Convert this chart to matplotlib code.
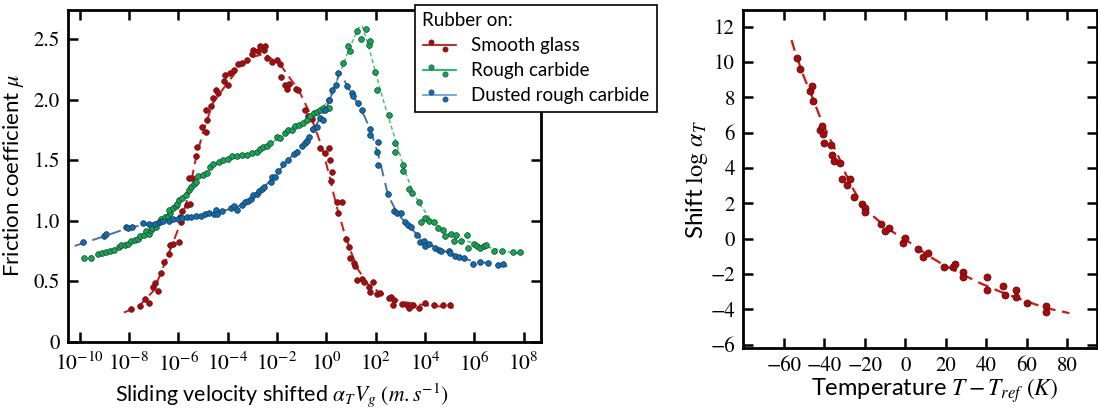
import numpy as np
import matplotlib
matplotlib.use('Agg')
import matplotlib.pyplot as plt
from matplotlib.lines import Line2D
from matplotlib.legend_handler import HandlerBase
from matplotlib.ticker import FuncFormatter, NullLocator

plt.rcParams['font.family'] = ['Lato', 'DejaVu Sans']
plt.rcParams['mathtext.fontset'] = 'stix'

# ---- left panel: friction master curves (x stored as log10 of velocity) ----
glass_logv = [-7.91, -7.57, -7.34, -7.19, -7.03, -6.93, -6.81, -6.71, -6.59, -6.38,
              -6.32, -6.21, -5.97, -5.92, -5.88, -5.85, -5.65, -5.54, -5.57, -5.43,
              -5.27, -5.23, -5.03, -4.89, -4.84, -4.86, -4.69, -4.58, -4.48, -4.38,
              -4.15, -4.11, -3.98, -3.90, -3.74, -3.57, -3.43, -3.22, -3.02, -2.96,
              -2.75, -2.69, -2.52, -2.48, -2.39, -2.21, -2.01, -1.87, -1.83, -1.67,
              -1.60, -1.50, -1.23, -1.13, -0.86, -0.73, -0.59, -0.55, -0.25, -0.05,
              0.09, 0.13, 0.22, 0.18, 0.43, 0.63, 0.49, 0.80, 0.90, 0.97,
              1.13, 1.17, 1.24, 1.44, 1.51, 1.71, 1.78, 1.91, 2.05, 2.18,
              2.52, 2.63, 2.76, 2.72, 3.06, 3.27, 3.36, 3.53, 3.74, 4.01,
              4.35, 4.71, 5.02]
glass_mu = [0.27, 0.29, 0.35, 0.32, 0.45, 0.48, 0.42, 0.57, 0.66, 0.72,
            0.80, 0.81, 0.82, 1.03, 0.99, 1.08, 1.13, 1.14, 1.35, 1.35,
            1.53, 1.61, 1.77, 1.73, 1.83, 1.91, 1.95, 2.01, 2.08, 2.05,
            2.15, 2.20, 2.12, 2.22, 2.24, 2.29, 2.30, 2.33, 2.38, 2.41,
            2.40, 2.44, 2.41, 2.44, 2.34, 2.31, 2.33, 2.29, 2.19, 2.12,
            2.09, 2.13, 2.09, 2.08, 1.91, 1.86, 1.84, 1.76, 1.60, 1.56,
            1.60, 1.50, 1.40, 1.33, 1.15, 1.15, 1.06, 0.85, 0.78, 0.69,
            0.65, 0.62, 0.51, 0.52, 0.49, 0.45, 0.41, 0.49, 0.39, 0.40,
            0.36, 0.37, 0.34, 0.30, 0.31, 0.30, 0.28, 0.30, 0.28, 0.32,
            0.30, 0.30, 0.30]
glass_fit_logv = [-8.2, -7.6, -7.0, -6.5, -6.0, -5.6, -5.3, -5.0, -4.6, -4.0,
                  -3.5, -3.0, -2.5, -1.8, -1.1, -0.7, -0.2, 0.1, 0.4, 0.7,
                  1.0, 1.3, 1.7, 2.2, 3.0, 4.0, 5.16]
glass_fit_mu = [0.24, 0.29, 0.42, 0.67, 0.93, 1.20, 1.50, 1.73, 1.97, 2.14,
                2.27, 2.35, 2.38, 2.27, 2.07, 1.90, 1.62, 1.39, 1.13, 0.92,
                0.74, 0.59, 0.47, 0.40, 0.33, 0.30, 0.28]

carbide_logv = [-9.84, -9.53, -9.26, -9.08, -8.95, -8.78, -8.62, -8.41, -8.31, -8.17,
                -8.04, -7.91, -7.77, -7.63, -7.54, -7.40, -7.30, -7.19, -7.09, -7.05,
                -6.92, -6.78, -6.69, -6.55, -6.42, -6.32, -6.37, -6.21, -6.10, -6.04,
                -5.97, -5.85, -5.67, -5.57, -5.47, -5.38, -5.29, -5.20, -5.00, -4.84,
                -4.71, -4.58, -4.37, -4.17, -3.97, -3.83, -3.63, -3.43, -3.22, -3.02,
                -2.82, -2.69, -2.55, -2.39, -2.28, -2.01, -1.87, -1.67, -1.54, -1.40,
                -1.27, -1.09, -0.93, -0.79, -0.66, -0.52, -0.39, -0.25, -0.12, 0.09,
                0.09, 0.69, 0.86, 0.97, 1.24, 1.41, 1.60, 1.71, 1.78,
                1.98, 2.05, 2.52, 2.80, 2.77, 3.09, 3.09, 3.33, 3.49, 3.77,
                4.01, 3.85, 4.17, 4.35, 4.52, 4.71, 4.79, 5.06, 5.25, 5.17,
                5.47, 5.70, 5.76, 5.97, 6.10, 6.24, 6.37, 6.47, 6.78, 7.12,
                7.58, 7.86]
carbide_mu = [0.69, 0.69, 0.72, 0.73, 0.74, 0.75, 0.76, 0.78, 0.80, 0.80,
              0.81, 0.83, 0.84, 0.85, 0.87, 0.88, 0.91, 0.89, 0.92, 0.94,
              0.95, 0.99, 1.01, 1.03, 1.04, 1.06, 1.09, 1.10, 1.12, 1.14,
              1.17, 1.19, 1.21, 1.25, 1.28, 1.30, 1.32, 1.37, 1.38, 1.39,
              1.44, 1.47, 1.48, 1.50, 1.51, 1.53, 1.53, 1.54, 1.54, 1.56,
              1.57, 1.59, 1.61, 1.62, 1.64, 1.69, 1.68, 1.72, 1.75, 1.75,
              1.78, 1.79, 1.81, 1.83, 1.86, 1.89, 1.90, 1.91, 1.93, 2.00,
              1.93, 2.30, 2.44, 2.40, 2.57, 2.50, 2.58, 2.45, 2.48,
              2.23, 2.08, 1.87, 1.64, 1.57, 1.46, 1.41, 1.26, 1.23, 1.15,
              1.02, 0.99, 1.00, 0.99, 0.94, 0.92, 0.87, 0.89, 0.88, 0.83,
              0.83, 0.88, 0.77, 0.81, 0.79, 0.77, 0.79, 0.80, 0.75, 0.75,
              0.74, 0.74]
carbide_fit_logv = [-9.9, -9.0, -8.0, -7.0, -6.5, -6.0, -5.5, -5.0, -4.5, -4.0,
                    -3.5, -3.0, -2.5, -2.0, -1.5, -1.0, -0.5, 0.0, 0.4, 0.97,
                    1.3, 1.45, 1.7, 2.0, 2.3, 2.6, 2.9, 3.2, 3.5, 3.8,
                    4.3, 5.1, 6.3, 7.4, 7.98]
carbide_fit_mu = [0.69, 0.73, 0.81, 0.93, 1.03, 1.15, 1.28, 1.39, 1.46, 1.50,
                  1.53, 1.56, 1.61, 1.67, 1.74, 1.80, 1.87, 1.97, 2.14, 2.44,
                  2.59, 2.61, 2.45, 2.22, 2.00, 1.80, 1.60, 1.40, 1.24, 1.13,
                  0.99, 0.87, 0.79, 0.74, 0.72]

dusted_logv = [-9.87, -9.03, -8.92, -8.13, -8.04, -7.88, -7.43, -7.19, -6.96, -6.75,
               -6.62, -6.38, -6.21, -6.01, -5.84, -5.65, -5.47, -5.27, -5.09, -4.93,
               -4.75, -4.56, -4.48, -4.44, -4.24, -3.87, -3.74, -3.61, -3.43, -3.29,
               -3.16, -3.06, -2.98, -2.82, -2.71, -2.62, -2.52, -2.25, -2.21, -2.08,
               -1.94, -1.74, -1.54, -1.33, -1.17, -0.99, -0.86, -0.79, -0.69, -0.55,
               -0.39, -0.25, -0.12, -0.05, 0.09, 0.22, 0.40, 0.47, 0.83, 1.03,
               1.10, 1.30, 1.46, 1.78, 1.78, 2.11, 2.05, 2.09, 2.49, 2.76,
               2.86, 3.03, 3.17, 3.31, 3.44, 3.67, 3.80, 3.94, 3.98, 4.17,
               4.41, 4.55, 4.66, 4.98, 5.02, 5.23, 5.36, 5.56, 5.93, 6.24,
               6.55, 6.96, 7.14]
dusted_mu = [0.82, 0.87, 0.89, 0.95, 0.94, 0.95, 0.98, 0.97, 0.97, 0.99,
             1.00, 1.00, 1.01, 1.01, 1.02, 1.03, 1.03, 1.04, 1.04, 1.05,
             1.06, 1.05, 1.09, 1.05, 1.08, 1.10, 1.12, 1.09, 1.13, 1.15,
             1.16, 1.18, 1.21, 1.22, 1.24, 1.26, 1.28, 1.32, 1.36, 1.36,
             1.41, 1.47, 1.50, 1.55, 1.57, 1.62, 1.64, 1.66, 1.69, 1.76,
             1.77, 1.85, 1.83, 1.91, 2.00, 2.08, 2.12, 2.22, 2.11, 2.05,
             2.03, 1.97, 1.91, 1.76, 1.71, 1.65, 1.57, 1.46, 1.22, 1.08,
             1.06, 1.06, 0.99, 0.96, 0.95, 0.88, 0.82, 0.83, 0.79, 0.81,
             0.77, 0.76, 0.75, 0.75, 0.73, 0.71, 0.70, 0.69, 0.64, 0.66,
             0.65, 0.63, 0.64]
dusted_fit_logv = [-10.2, -9.0, -8.0, -7.0, -6.0, -5.0, -4.0, -3.5, -3.0, -2.5,
                   -2.0, -1.5, -1.0, -0.5, 0.0, 0.3, 0.55, 0.8, 1.2, 1.55,
                   1.8, 2.1, 2.3, 2.5, 2.8, 3.0, 3.5, 4.0, 4.5, 5.0,
                   5.5, 6.0, 6.5, 7.0, 7.39]
dusted_fit_mu = [0.79, 0.87, 0.94, 0.98, 1.01, 1.04, 1.09, 1.12, 1.19, 1.28,
                 1.39, 1.51, 1.62, 1.76, 1.93, 2.08, 2.23, 2.13, 1.99, 1.86,
                 1.74, 1.55, 1.38, 1.21, 1.09, 1.03, 0.92, 0.82, 0.77, 0.73,
                 0.69, 0.66, 0.65, 0.63, 0.62]

series_labels = ['Smooth glass', 'Rough carbide', 'Dusted rough carbide']
mu_ticks = [0, 0.5, 1.0, 1.5, 2.0, 2.5]
mu_tick_labels = ['0', '0.5', '1.0', '1.5', '2.0', '2.5']
v_tick_exp = [-10, -8, -6, -4, -2, 0, 2, 4, 6, 8]

# ---- right panel: shift factors ----
temp = [-53.4, -52.1, -47.2, -46.0, -45.5, -41.9, -41.1, -40.8, -40.3, -36.7,
        -36.2, -35.4, -32.1, -31.2, -28.8, -27.1, -25.2, -21.4, -19.8, -19.8,
        -11.9, -9.9, -8.2, -1.2, 0.0, 6.5, 8.7, 11.0, 18.9, 23.5,
        24.6, 28.7, 28.7, 40.2, 40.5, 48.1, 49.3, 54.7, 54.7, 60.0,
        69.5, 69.3]
shift = [10.21, 9.61, 8.38, 8.66, 7.82, 6.16, 6.40, 5.93, 5.40, 5.31,
         4.74, 4.40, 4.27, 3.37, 3.05, 3.39, 2.39, 1.97, 1.73, 1.50,
         0.82, 0.46, 0.60, -0.25, 0.03, -0.59, -1.01, -0.82, -1.57, -1.61,
         -1.42, -1.86, -2.14, -2.89, -2.17, -2.67, -3.17, -2.89, -3.27, -3.61,
         -3.83, -4.12]
fit_temp = [-56.2, -54.2, -50.1, -46.0, -41.9, -37.8, -33.7, -29.6, -25.5, -20.6,
            -15.6, -9.1, -2.5, 4.1, 10.7, 18.9, 27.1, 36.9, 46.8, 60.0,
            69.8, 81.0]
fit_shift = [11.25, 10.49, 9.17, 8.04, 6.82, 5.78, 4.84, 3.71, 2.76, 1.82,
             1.26, 0.60, 0.12, -0.35, -0.91, -1.48, -1.95, -2.51, -2.99, -3.55,
             -3.93, -4.21]
temp_ticks = [-60, -40, -20, 0, 20, 40, 60, 80]
shift_ticks = [-6, -4, -2, 0, 2, 4, 6, 8, 10, 12]

dot_colors = ['#c00000', '#00b050', '#0070c0']
fit_colors = ['#dd1111', '#2cc86a', '#4a72a8']
legend_colors = ['#c00000', '#00b050', '#5b9bd5']
fit_dashes = [(5, 3), (3, 2), (6, 3.5)]
fit_widths = [1.4, 1.0, 1.4]


class DotsOnLine(HandlerBase):
    def create_artists(self, legend, orig, xd, yd, w, h, fontsize, trans):
        y0 = (h - yd) / 2
        line = Line2D([-xd, -xd + w], [y0, y0], color=orig.get_color(), lw=1.2,
                      transform=trans)
        dots = Line2D([-xd + 0.25 * w, -xd + 0.68 * w], [y0 + 0.22 * h, y0 - 0.3 * h],
                      ls='none', marker='o', ms=3.8, mfc=orig.get_markerfacecolor(),
                      mec='#333333', mew=0.4, transform=trans)
        return [line, dots]


fig = plt.figure(figsize=(10.98, 4.08), dpi=100)
ax1 = fig.add_axes([68 / 1098, 1 - 341.5 / 408, 473 / 1098, 331.5 / 408])
ax2 = fig.add_axes([743.3 / 1098, 1 - 348.3 / 408, 353.4 / 1098, 338.3 / 408])

points = [(glass_logv, glass_mu), (carbide_logv, carbide_mu), (dusted_logv, dusted_mu)]
fits = [(glass_fit_logv, glass_fit_mu), (carbide_fit_logv, carbide_fit_mu),
        (dusted_fit_logv, dusted_fit_mu)]

for i in range(3):
    fx, fy = fits[i]
    ax1.plot(10.0 ** np.array(fx), fy, color=fit_colors[i], lw=fit_widths[i],
             dashes=fit_dashes[i], zorder=2)
for i in range(3):
    px, py = points[i]
    ax1.scatter(10.0 ** np.array(px), py, s=17, c=dot_colors[i],
                edgecolors='#333333', linewidths=0.5, zorder=3)

ax1.set_xscale('log')
ax1.set_xlim(10 ** -10.47, 10 ** 8.7)
ax1.set_ylim(0, 2.74)
ax1.set_xticks(10.0 ** np.array(v_tick_exp))
ax1.xaxis.set_minor_locator(NullLocator())
ax1.xaxis.set_major_formatter(FuncFormatter(lambda v, _: r'$10^{%d}$' % round(np.log10(v))))
ax1.set_yticks(mu_ticks)
ax1.set_yticklabels(mu_tick_labels)
ax1.set_xlabel(r'Sliding velocity shifted $\alpha_T V_g\ (m.s^{-1})$', fontsize=15.5, labelpad=4)
ax1.xaxis.label.set_x(0.453)
ax1.set_ylabel(r'Friction coefficient $\mu$', fontsize=16, labelpad=5)

ax2.plot(fit_temp, fit_shift, color=fit_colors[0], lw=1.6, dashes=(5, 3), zorder=2)
ax2.scatter(temp, shift, s=26, c=dot_colors[0], edgecolors='#222222',
            linewidths=0.5, zorder=3)
ax2.set_xlim(-80, 94.5)
ax2.set_ylim(-6.2, 12.95)
ax2.set_xticks(temp_ticks)
ax2.set_yticks(shift_ticks)
ax2.set_xlabel(r'Temperature $T - T_{ref}\ (K)$', fontsize=17, labelpad=0)
ax2.xaxis.label.set_x(0.542)
ax2.set_ylabel(r'Shift $\log\,\alpha_T$', fontsize=17.5, labelpad=0)

for ax in (ax1, ax2):
    ax.tick_params(which='major', direction='in', length=7, width=1.8,
                   top=True, right=True, labelsize=15, pad=6,
                   labelfontfamily='STIXGeneral')
    for sp in ax.spines.values():
        sp.set_linewidth(2.0)
ax1.tick_params(axis='x', labelsize=15.5, pad=8)

handles = [Line2D([], [], color=legend_colors[i], marker='o',
                  markerfacecolor=dot_colors[i]) for i in range(3)]
leg = fig.legend(handles, series_labels, title='Rubber on:', loc='upper left',
                 bbox_to_anchor=(415 / 1098, 1 - 5 / 408), borderaxespad=0,
                 fancybox=False, edgecolor='black', framealpha=1, alignment='left',
                 handler_map={Line2D: DotsOnLine()}, handlelength=1.8,
                 fontsize=13.5, title_fontsize=13.5, labelspacing=0.42,
                 borderpad=0.4, handletextpad=0.8)
leg.get_frame().set_linewidth(1.2)

fig.savefig('out.png', dpi=100)
